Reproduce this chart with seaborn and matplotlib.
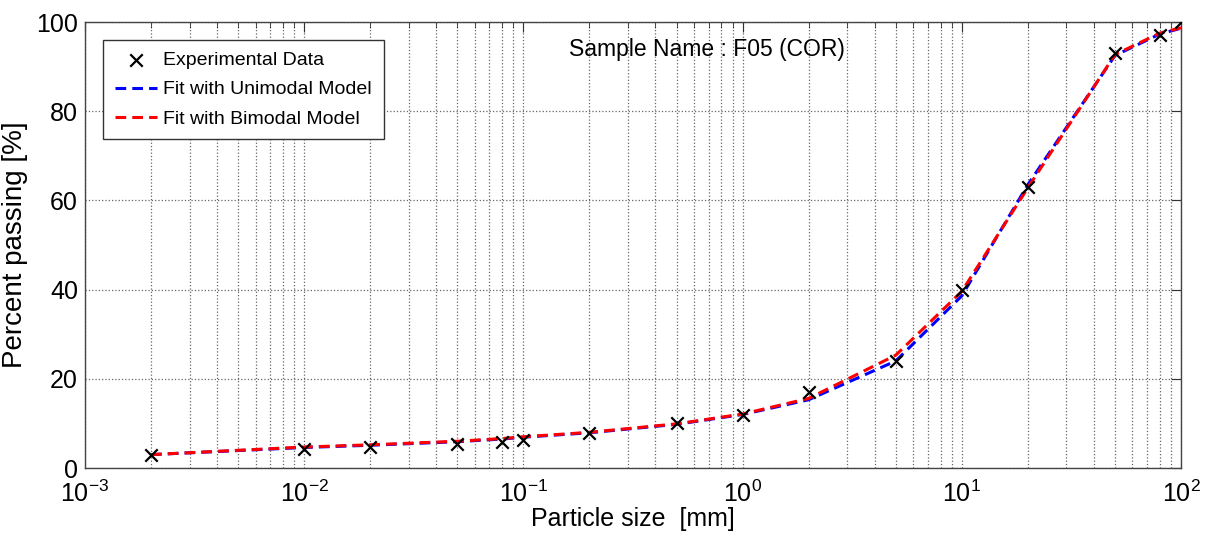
import seaborn as sns
import pandas as pd
import matplotlib.pyplot as plt

# measured grain size distribution
size_mm = [0.002, 0.01, 0.02, 0.05, 0.08, 0.1, 0.2, 0.5, 1, 2, 5, 10, 20, 50, 80, 100]
passing = [2.9, 4.3, 4.8, 5.3, 5.8, 6.3, 7.8, 10.0, 11.8, 17.0, 23.9, 39.9, 63.1, 93.0, 97.1, 100.0]

# fitted curves, read at the same sizes
fit_unimodal = [3.0, 4.6, 5.1, 5.9, 6.5, 6.9, 7.9, 9.8, 12.0, 15.3, 24.0, 38.6, 63.5, 92.5, 97.3, 98.6]
fit_bimodal = [3.0, 4.7, 5.2, 6.0, 6.6, 7.0, 8.0, 9.9, 12.1, 15.6, 25.3, 39.6, 62.8, 92.7, 97.5, 98.7]

pts = pd.DataFrame({'size': size_mm, 'passing': passing})
fits = pd.DataFrame({'size': size_mm * 2,
                     'passing': fit_unimodal + fit_bimodal,
                     'model': ['Fit with Unimodal Model'] * len(size_mm) + ['Fit with Bimodal Model'] * len(size_mm)})

sns.set_style('white')
plt.rcParams['font.family'] = ['Liberation Sans', 'DejaVu Sans']
plt.rcParams['mathtext.fontset'] = 'custom'
plt.rcParams['mathtext.rm'] = 'Liberation Sans'
plt.rcParams['text.color'] = 'black'
plt.rcParams['axes.labelcolor'] = 'black'

fig = plt.figure(figsize=(12.07, 5.36), dpi=100)
ax = fig.add_axes([85 / 1207, 1 - 468 / 536, (1181 - 85) / 1207, (468 - 22) / 536])

sns.scatterplot(x='size', y='passing', data=pts, marker='x', color='black', s=80,
                linewidth=1.6, label='Experimental Data', ax=ax, zorder=4)
sns.lineplot(x='size', y='passing', data=fits, hue='model',
             palette={'Fit with Unimodal Model': '#0000ff', 'Fit with Bimodal Model': '#ff0000'},
             linewidth=2.2, ax=ax, zorder=3)
for ln in ax.lines:
    ln.set_linestyle((0, (3.5, 2)))

ax.set_xscale('log')
ax.set_xlim(1e-3, 1e2)
ax.set_ylim(0, 100)
ax.set_yticks([0, 20, 40, 60, 80, 100])
ax.grid(True, which='major', axis='both', linestyle=':', color='#666666', linewidth=0.9)
ax.grid(True, which='minor', axis='x', linestyle=':', color='#666666', linewidth=0.9)
ax.tick_params(which='both', direction='in', top=True, right=True, labelsize=18,
               colors='#333333', labelcolor='black')
ax.tick_params(axis='x', which='major', pad=9)
ax.tick_params(axis='y', which='major', pad=5)
ax.tick_params(which='major', length=7)
ax.tick_params(which='minor', length=4)
for sp in ax.spines.values():
    sp.set_color('#444444')
    sp.set_linewidth(1.0)

ax.set_xlabel('Particle size  [mm]', fontsize=18, labelpad=0)
ax.set_ylabel('Percent passing [%]', fontsize=20, labelpad=6)
ax.text(0.5675, 0.965, 'Sample Name : F05 (COR)', transform=ax.transAxes,
        ha='center', va='top', fontsize=16.5, color='black')

handles, labels = ax.get_legend_handles_labels()
for h in handles[1:]:
    h.set_linestyle((0, (3.5, 2)))
leg = ax.legend(handles, labels, loc='upper left', bbox_to_anchor=(0.0164, 0.96),
                borderaxespad=0, fontsize=14, frameon=True, fancybox=False, framealpha=1,
                edgecolor='#333333', handlelength=2.2, handletextpad=0.3,
                borderpad=0.6, labelspacing=0.6)
leg.get_frame().set_linewidth(1.0)

fig.savefig('out.png', dpi=100)
